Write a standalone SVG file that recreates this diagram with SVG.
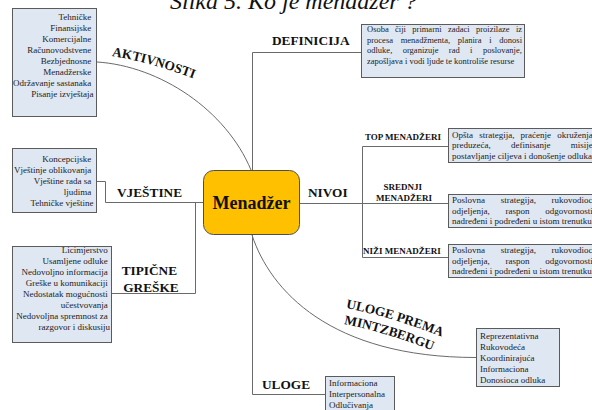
<svg xmlns="http://www.w3.org/2000/svg" width="592" height="410" viewBox="0 0 592 410">
  <style>
    .box { fill: #dfe7f3; stroke: #5b5b5b; stroke-width: 1; }
    .hub { fill: #ffc000; stroke: #4f4f4f; stroke-width: 1; }
    .wire { fill: none; stroke: #6a6a6a; stroke-width: 1; }
    .item { font-family: "Liberation Serif", "Times New Roman", serif; font-size: 9px; fill: #222; }
    .def { font-family: "Liberation Serif", "Times New Roman", serif; font-size: 8.5px; fill: #222; }
    .lbl { font-family: "Liberation Serif", "Times New Roman", serif; font-size: 13.3px; font-weight: bold; fill: #111; }
    .sub { font-family: "Liberation Serif", "Times New Roman", serif; font-size: 9px; font-weight: bold; fill: #111; }
    .r { text-anchor: end; }
  </style>
  <defs>
    <path id="arc-akt" d="M112,56 Q150,62 200,81"/>
    <path id="arc-mz1" d="M346,308 Q392,317 448,339"/>
    <path id="arc-mz2" d="M344,324 Q390,333 444,355"/>
  </defs>

  <!-- figure caption, partly above the top edge -->
  <text x="170" y="8.5" font-family="Liberation Serif, Times New Roman, serif" font-size="24" font-style="italic" fill="#111">Slika 5. Ko je menadžer ?</text>

  <!-- connectors -->
  <g id="connectors">
    <path class="wire" d="M97,62 C160,66 226,110 251,170"/>
    <polyline class="wire" points="97,181.5 105.5,181.5 105.5,202.5 203,202.5"/>
    <polyline class="wire" points="112,293.5 195.5,293.5 195.5,202.5"/>
    <polyline class="wire" points="252.5,170 252.5,52.5 361,52.5"/>
    <polyline class="wire" points="300,203.5 362.5,203.5"/>
    <polyline class="wire" points="448,146.5 362.5,146.5 362.5,257.5 448,257.5"/>
    <line class="wire" x1="362.5" y1="203.5" x2="448" y2="203.5"/>
    <path class="wire" d="M252,235 C270,290 330,357.5 476,357.5"/>
    <polyline class="wire" points="252.5,235 252.5,394.5 325,394.5"/>
  </g>

  <!-- central node -->
  <g id="menadzer">
    <rect class="hub" x="203.5" y="170.5" width="96" height="64" rx="10"/>
    <text x="251.5" y="209" text-anchor="middle" font-family="Liberation Serif, Times New Roman, serif" font-size="18" font-weight="bold" fill="#111">Menadžer</text>
  </g>

  <!-- activities -->
  <g id="aktivnosti">
    <rect class="box" x="12.5" y="8.5" width="84" height="108"/>
    <text class="item r">
      <tspan x="93.5" y="20">Tehničke</tspan>
      <tspan x="93.5" y="31">Finansijske</tspan>
      <tspan x="93.5" y="42">Komercijalne</tspan>
      <tspan x="93.5" y="53">Računovodstvene</tspan>
      <tspan x="93.5" y="64">Bezbjednosne</tspan>
      <tspan x="93.5" y="75">Menadžerske</tspan>
      <tspan x="93.5" y="86">Održavanje sastanaka</tspan>
      <tspan x="93.5" y="97">Pisanje izvještaja</tspan>
    </text>
    <text class="lbl"><textPath href="#arc-akt">AKTIVNOSTI</textPath></text>
  </g>

  <!-- skills -->
  <g id="vjestine">
    <rect class="box" x="12.5" y="148.5" width="84" height="64"/>
    <text class="item r">
      <tspan x="93.5" y="161.5">Koncepcijske</tspan>
      <tspan x="93.5" y="172.5">Vještinje oblikovanja</tspan>
      <tspan x="93.5" y="183.5">Vještine rada sa</tspan>
      <tspan x="93.5" y="194.5">ljudima</tspan>
      <tspan x="93.5" y="205.5">Tehničke vještine</tspan>
    </text>
    <text class="lbl" x="117" y="196.5">VJEŠTINE</text>
  </g>

  <!-- typical mistakes -->
  <g id="greske">
    <rect class="box" x="12.5" y="246.5" width="99" height="96"/>
    <text class="item r">
      <tspan x="110" y="253">Licimjerstvo</tspan>
      <tspan x="110" y="264">Usamljene odluke</tspan>
      <tspan x="110" y="275">Nedovoljno informacija</tspan>
      <tspan x="110" y="286">Greške u komunikaciji</tspan>
      <tspan x="110" y="297">Nedostatak mogućnosti</tspan>
      <tspan x="110" y="308">učestvovanja</tspan>
      <tspan x="110" y="319">Nedovoljna spremnost za</tspan>
      <tspan x="110" y="330">razgovor i diskusiju</tspan>
    </text>
    <text class="lbl" text-anchor="middle">
      <tspan x="151" y="275">TIPIČNE</tspan>
      <tspan x="151" y="291.5">GREŠKE</tspan>
    </text>
  </g>

  <!-- definition -->
  <g id="definicija">
    <rect class="box" x="361.5" y="24.5" width="163" height="53"/>
    <text class="def">
      <tspan x="367" y="32" word-spacing="4.24">Osoba čiji primarni zadaci proizilaze iz</tspan>
      <tspan x="367" y="42.5" word-spacing="5.65">procesa menadžmenta, planira i donosi</tspan>
      <tspan x="367" y="53" word-spacing="8.3">odluke, organizuje rad i poslovanje,</tspan>
      <tspan x="367" y="63.5">zapošljava i vodi ljude te kontroliše resurse</tspan>
    </text>
    <text class="lbl" x="272" y="45">DEFINICIJA</text>
  </g>

  <!-- levels -->
  <g id="nivoi">
    <text class="lbl" x="308" y="196.5">NIVOI</text>
  </g>

  <g id="top-menadzeri">
    <rect class="box" x="448.5" y="128.5" width="160" height="34"/>
    <text class="item">
      <tspan x="452" y="137.5" word-spacing="3.93">Opšta strategija, praćenje okruženja,</tspan>
      <tspan x="452" y="148" word-spacing="18">preduzeća, definisanje misije,</tspan>
      <tspan x="452" y="158.5">postavljanje ciljeva i donošenje odluka</tspan>
    </text>
    <text class="sub" x="365" y="139.5">TOP MENADŽERI</text>
  </g>

  <g id="srednji-menadzeri">
    <rect class="box" x="448.5" y="194.5" width="160" height="33"/>
    <text class="item">
      <tspan x="452" y="203" word-spacing="13.4">Poslovna strategija, rukovodioci</tspan>
      <tspan x="452" y="213.5" word-spacing="13.5">odjeljenja, raspon odgovornosti,</tspan>
      <tspan x="452" y="224">nadređeni i podređeni u istom trenutku</tspan>
    </text>
    <text class="sub" text-anchor="middle">
      <tspan x="404" y="189.5">SREDNJI</tspan>
      <tspan x="404" y="200.5">MENADŽERI</tspan>
    </text>
  </g>

  <g id="nizi-menadzeri">
    <rect class="box" x="448.5" y="244.5" width="160" height="33"/>
    <text class="item">
      <tspan x="452" y="253" word-spacing="13.4">Poslovna strategija, rukovodioci</tspan>
      <tspan x="452" y="263.5" word-spacing="13.5">odjeljenja, raspon odgovornosti,</tspan>
      <tspan x="452" y="274">nadređeni i podređeni u istom trenutku</tspan>
    </text>
    <text class="sub" x="363" y="254">NIŽI MENADŽERI</text>
  </g>

  <!-- Mintzberg roles -->
  <g id="mintzberg">
    <rect class="box" x="476.5" y="328.5" width="83" height="58"/>
    <text class="item">
      <tspan x="480" y="338.5">Reprezentativna</tspan>
      <tspan x="480" y="349.5">Rukovodeća</tspan>
      <tspan x="480" y="360.5">Koordinirajuća</tspan>
      <tspan x="480" y="371.5">Informaciona</tspan>
      <tspan x="480" y="382.5">Donosioca odluka</tspan>
    </text>
    <text class="lbl"><textPath href="#arc-mz1">ULOGE PREMA</textPath></text>
    <text class="lbl"><textPath href="#arc-mz2">MINTZBERGU</textPath></text>
  </g>

  <!-- roles -->
  <g id="uloge">
    <rect class="box" x="325.5" y="376.5" width="69" height="40"/>
    <text class="item">
      <tspan x="329" y="386">Informaciona</tspan>
      <tspan x="329" y="397">Interpersonalna</tspan>
      <tspan x="329" y="408">Odlučivanja</tspan>
    </text>
    <text class="lbl" x="262" y="389">ULOGE</text>
  </g>
</svg>
